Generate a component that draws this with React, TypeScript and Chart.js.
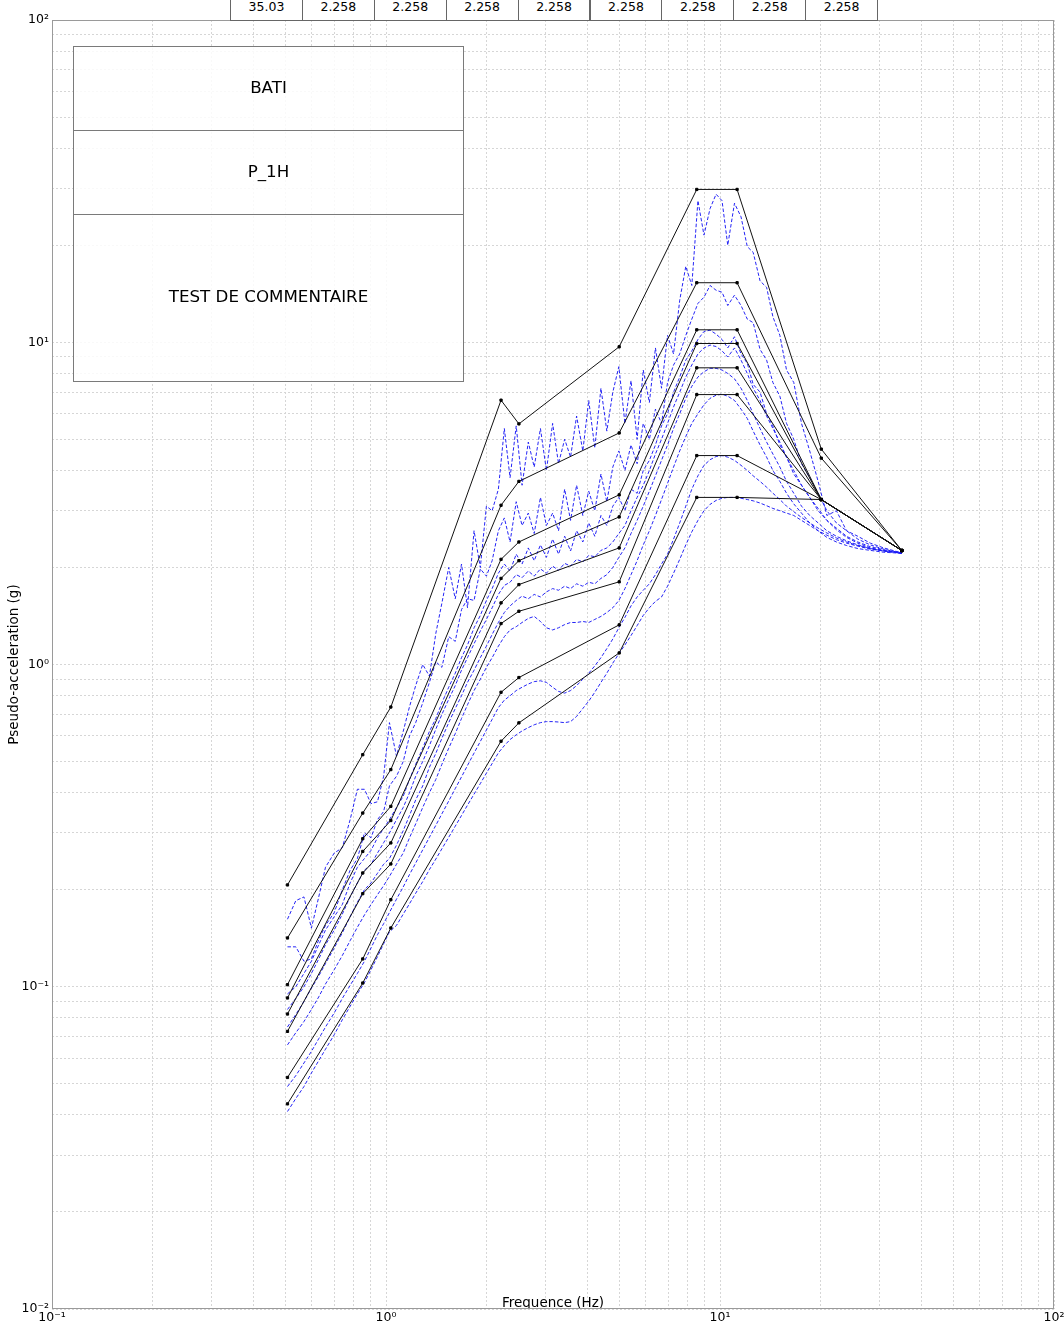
import React, { useEffect, useRef } from 'react';
import { Chart, registerables } from 'chart.js';

Chart.register(...registerables);

// ---------- Axis ticks ----------
const X_GRID_TICKS = [0.1, 0.2, 0.3, 0.4, 0.5, 0.6, 0.7, 0.8, 0.9, 1, 2, 3, 4, 5, 6, 7, 8, 9, 10, 20, 30, 40, 50, 60, 70, 80, 90, 100];
const Y_GRID_TICKS = [
  0.01, 0.02, 0.03, 0.04, 0.05, 0.06, 0.07, 0.08, 0.09,
  0.1, 0.2, 0.3, 0.4, 0.5, 0.6, 0.7, 0.8, 0.9,
  1, 2, 3, 4, 5, 6, 7, 8, 9,
  10, 20, 30, 40, 50, 60, 70, 80, 90, 100,
];
const X_MAJOR_TICKS = [0.1, 1, 10, 100];
const X_MAJOR_LABELS = ['10⁻¹', '10⁰', '10¹', '10²'];
const Y_MAJOR_TICKS = [0.01, 0.1, 1, 10, 100];
const Y_MAJOR_LABELS = ['10⁻²', '10⁻¹', '10⁰', '10¹', '10²'];

// ---------- Table & caption ----------
const TABLE_VALUES = ['35.03', '2.258', '2.258', '2.258', '2.258', '2.258', '2.258', '2.258', '2.258'];
const CAPTION_ROWS = ['BATI', 'P_1H', 'TEST DE COMMENTAIRE'];

// ---------- Envelope spectra (black, with markers) ----------
const ENV_FREQ = [0.507, 0.852, 1.034, 2.21, 2.5, 4.99, 8.52, 11.25, 20.1, 35.03];
const ENV_1 = [0.207, 0.525, 0.738, 6.61, 5.58, 9.68, 29.8, 29.8, 4.66, 2.258];
const ENV_2 = [0.1417, 0.346, 0.472, 3.12, 3.7, 5.23, 15.3, 15.3, 4.37, 2.258];
const ENV_3 = [0.1015, 0.288, 0.363, 2.12, 2.4, 3.36, 10.93, 10.93, 3.25, 2.258];
const ENV_4 = [0.0923, 0.263, 0.328, 1.85, 2.1, 2.87, 9.91, 9.91, 3.25, 2.258];
const ENV_5 = [0.0823, 0.2255, 0.2795, 1.553, 1.77, 2.3, 8.33, 8.33, 3.25, 2.258];
const ENV_6 = [0.0727, 0.1945, 0.2405, 1.34, 1.463, 1.805, 6.88, 6.88, 3.25, 2.258];
const ENV_7 = [0.0523, 0.122, 0.1863, 0.82, 0.911, 1.327, 4.45, 4.45, 3.25, 2.258];
const ENV_8 = [0.0433, 0.1027, 0.1522, 0.578, 0.659, 1.086, 3.3, 3.3, 3.25, 2.258];

// ---------- Computed spectra (blue dashed) ----------
const SPEC_FREQ = [
  0.507, 0.537, 0.568, 0.598, 0.629, 0.659, 0.70, 0.74, 0.781, 0.821,
  0.862, 0.902, 0.943, 0.984, 1.024, 1.075, 1.126, 1.176, 1.227, 1.288,
  1.349, 1.41, 1.47, 1.541, 1.612, 1.683, 1.754, 1.835, 1.916, 1.998,
  2.079, 2.17, 2.261, 2.352, 2.454, 2.555, 2.667, 2.778, 2.9, 3.022,
  3.154, 3.285, 3.427, 3.569, 3.721, 3.884, 4.046, 4.218, 4.401, 4.583,
  4.776, 4.979, 5.192, 5.415, 5.648, 5.891, 6.145, 6.408, 6.682, 6.966,
  7.26, 7.575, 7.899, 8.234, 8.589, 8.954, 9.339, 9.734, 10.14, 10.55,
  11.05, 11.56, 12.07, 12.57, 13.18, 13.79, 14.4, 15.11, 15.82, 16.63,
  17.54, 18.56, 19.67, 20.89, 22.31, 23.93, 25.86, 28.19, 30.93, 33.4,
  35.03,
];
const SPEC_1 = [
  0.162, 0.185, 0.19, 0.152, 0.19, 0.235, 0.26, 0.27, 0.33, 0.41,
  0.41, 0.37, 0.375, 0.45, 0.66, 0.52, 0.62, 0.74, 0.86, 1.0,
  0.92, 1.25, 1.55, 2.0, 1.6, 2.05, 1.5, 2.6, 2.0, 3.1,
  3.0, 3.5, 5.4, 3.8, 5.5, 3.6, 4.9, 4.1, 5.4, 4.0,
  5.6, 4.2, 5.0, 4.4, 5.9, 4.6, 6.6, 4.7, 7.2, 5.3,
  7.0, 8.4, 5.6, 7.6, 5.0, 8.2, 6.5, 9.6, 7.2, 10.5,
  9.2, 13.5, 17.2, 15.0, 27.5, 21.5, 26.0, 28.8, 27.5, 20.0,
  27.0, 24.5, 19.8, 19.0, 15.5, 14.8, 12.0, 10.5, 8.2, 7.5,
  5.6, 4.6, 3.7, 2.9, 3.0, 2.6, 2.5, 2.38, 2.3, 2.25,
  2.22,
];
const SPEC_2 = [
  0.133, 0.133, 0.12, 0.122, 0.14, 0.155, 0.17, 0.2, 0.23, 0.25,
  0.3, 0.29, 0.33, 0.35, 0.42, 0.45, 0.5, 0.6, 0.66, 0.76,
  0.88, 1.02, 0.98, 1.22, 1.18, 1.48, 1.6, 1.58, 1.98, 1.88,
  2.1, 2.6, 2.85, 2.4, 3.2, 2.7, 2.95, 2.55, 3.3, 2.7,
  2.95, 2.6, 3.5, 2.8, 3.6, 2.9, 3.45, 3.0, 3.9, 3.2,
  4.1, 4.6, 4.0, 4.8, 4.2, 5.6, 5.0, 6.2, 5.6, 7.5,
  8.5, 9.2, 10.5, 11.8, 13.2, 13.8, 15.0, 14.5, 14.3, 13.0,
  14.0, 13.0, 11.8, 11.5, 9.5, 8.8, 7.5, 6.8, 5.6, 5.0,
  4.2, 3.8, 3.4, 3.0, 2.75, 2.6, 2.45, 2.35, 2.28, 2.24,
  2.22,
];
const SPEC_3 = [
  0.095, 0.1, 0.11, 0.12, 0.135, 0.15, 0.165, 0.18, 0.21, 0.235,
  0.25, 0.265, 0.29, 0.31, 0.33, 0.36, 0.39, 0.44, 0.49, 0.55,
  0.62, 0.68, 0.76, 0.85, 0.94, 1.05, 1.15, 1.3, 1.42, 1.58,
  1.72, 1.92, 2.05, 1.95, 2.2, 2.05, 2.3, 2.1, 2.35, 2.15,
  2.45, 2.2, 2.5, 2.25, 2.6, 2.4, 2.75, 2.5, 2.9, 2.7,
  3.1, 3.3, 3.0, 3.5, 3.4, 4.0, 4.3, 4.8, 5.5, 6.0,
  7.0, 7.8, 8.8, 9.4, 10.2, 10.8, 10.9, 10.6, 10.2, 9.6,
  10.4, 9.2, 8.6, 7.4, 7.0, 6.0, 5.5, 4.8, 4.4, 3.9,
  3.6, 3.3, 3.0, 2.8, 2.65, 2.5, 2.4, 2.32, 2.27, 2.24,
  2.22,
];
const SPEC_4 = [
  0.085, 0.092, 0.1, 0.11, 0.122, 0.135, 0.15, 0.168, 0.19, 0.21,
  0.23, 0.24, 0.26, 0.28, 0.3, 0.33, 0.36, 0.4, 0.45, 0.5,
  0.56, 0.63, 0.7, 0.78, 0.86, 0.96, 1.05, 1.16, 1.27, 1.38,
  1.5, 1.65, 1.76, 1.8, 1.9, 1.86, 1.95, 1.88, 1.98, 1.92,
  2.02, 1.96, 2.06, 2.02, 2.12, 2.08, 2.18, 2.16, 2.26, 2.3,
  2.4, 2.55, 2.7, 3.0, 3.3, 3.6, 4.0, 4.5, 5.0, 5.6,
  6.3, 7.0, 7.8, 8.5, 9.2, 9.6, 9.8, 9.7, 9.4, 9.0,
  9.6, 8.8, 8.0, 7.2, 6.6, 5.9, 5.4, 4.9, 4.4, 4.0,
  3.6, 3.3, 3.05, 2.8, 2.62, 2.48, 2.38, 2.3, 2.26, 2.23,
  2.21,
];
const SPEC_5 = [
  0.075, 0.082, 0.09, 0.099, 0.108, 0.118, 0.132, 0.147, 0.165, 0.183,
  0.2, 0.21, 0.225, 0.24, 0.25, 0.275, 0.305, 0.34, 0.38, 0.42,
  0.48, 0.53, 0.59, 0.66, 0.73, 0.8, 0.88, 0.96, 1.05, 1.14,
  1.24, 1.35, 1.45, 1.52, 1.58, 1.63, 1.6, 1.65, 1.62, 1.68,
  1.72, 1.7, 1.75, 1.72, 1.78, 1.75, 1.8, 1.78, 1.85, 1.9,
  2.0, 2.15, 2.3, 2.55, 2.8, 3.1, 3.45, 3.85, 4.3, 4.8,
  5.4, 6.0, 6.7, 7.3, 7.8, 8.1, 8.3, 8.3, 8.2, 8.0,
  7.7, 7.2, 6.6, 6.0, 5.4, 4.9, 4.5, 4.1, 3.7, 3.4,
  3.1, 2.9, 2.75, 2.6, 2.5, 2.42, 2.35, 2.29, 2.25, 2.23,
  2.21,
];
const SPEC_6 = [
  0.066, 0.072, 0.078, 0.085, 0.093, 0.102, 0.113, 0.125, 0.139, 0.153,
  0.167, 0.18, 0.193, 0.206, 0.22, 0.24, 0.26, 0.29, 0.32, 0.36,
  0.4, 0.44, 0.49, 0.55, 0.61, 0.68, 0.75, 0.83, 0.9, 0.98,
  1.05, 1.14, 1.22, 1.28, 1.31, 1.35, 1.39, 1.41, 1.36, 1.3,
  1.28, 1.3, 1.33, 1.35, 1.35, 1.36, 1.35, 1.38, 1.41, 1.45,
  1.5, 1.58, 1.72, 1.9, 2.1, 2.35, 2.6, 2.9, 3.25, 3.65,
  4.1, 4.6, 5.1, 5.6, 6.0, 6.4, 6.7, 6.85, 6.9, 6.8,
  6.6, 6.2, 5.8, 5.3, 4.8, 4.4, 4.0, 3.7, 3.4, 3.15,
  2.95, 2.75, 2.6, 2.48, 2.4, 2.34, 2.29, 2.26, 2.23, 2.22,
  2.21,
];
const SPEC_7 = [
  0.049, 0.053, 0.058, 0.063, 0.069, 0.075, 0.083, 0.092, 0.101, 0.11,
  0.12, 0.132, 0.145, 0.157, 0.17, 0.187, 0.204, 0.223, 0.242, 0.266,
  0.291, 0.317, 0.344, 0.377, 0.412, 0.448, 0.486, 0.531, 0.577, 0.626,
  0.676, 0.735, 0.775, 0.8, 0.83, 0.85, 0.87, 0.885, 0.89, 0.88,
  0.85, 0.825, 0.815, 0.83, 0.86, 0.9, 0.94, 0.99, 1.05, 1.12,
  1.2, 1.3, 1.4, 1.52, 1.62, 1.7, 1.78, 1.9, 2.05, 2.2,
  2.45, 2.75, 3.1, 3.5, 3.85, 4.15, 4.32, 4.42, 4.45, 4.4,
  4.3, 4.15, 4.0, 3.85, 3.7, 3.55, 3.4, 3.25, 3.1, 2.98,
  2.86, 2.75, 2.65, 2.56, 2.47, 2.4, 2.34, 2.29, 2.25, 2.23,
  2.21,
];
const SPEC_8 = [
  0.041, 0.045, 0.049, 0.054, 0.059, 0.064, 0.071, 0.079, 0.087, 0.095,
  0.103, 0.113, 0.124, 0.136, 0.148, 0.155, 0.168, 0.181, 0.195, 0.212,
  0.231, 0.249, 0.268, 0.291, 0.315, 0.34, 0.366, 0.396, 0.427, 0.46,
  0.493, 0.532, 0.56, 0.585, 0.605, 0.622, 0.637, 0.65, 0.66, 0.665,
  0.665, 0.663, 0.66, 0.665, 0.69, 0.73, 0.77, 0.82, 0.88, 0.94,
  1.01, 1.08, 1.15, 1.23, 1.32, 1.42, 1.5, 1.57, 1.62, 1.75,
  1.92, 2.12, 2.35, 2.58, 2.8, 3.0, 3.14, 3.23, 3.28, 3.3,
  3.3, 3.28, 3.25, 3.22, 3.17, 3.11, 3.05, 3.0, 2.95, 2.9,
  2.8, 2.7, 2.6, 2.52, 2.44, 2.38, 2.33, 2.28, 2.25, 2.23,
  2.22,
];

const ENVELOPES = [ENV_1, ENV_2, ENV_3, ENV_4, ENV_5, ENV_6, ENV_7, ENV_8];
const SPECTRA = [SPEC_1, SPEC_2, SPEC_3, SPEC_4, SPEC_5, SPEC_6, SPEC_7, SPEC_8];

const FONT = '"DejaVu Sans", sans-serif';

function toPoints(xs: number[], ys: number[]) {
  const pts: { x: number; y: number }[] = [];
  for (let i = 0; i < xs.length && i < ys.length; i++) pts.push({ x: xs[i], y: ys[i] });
  return pts;
}

function labelFor(v: number, majors: number[], labels: string[]) {
  const i = majors.findIndex((m) => Math.abs(Math.log10(v / m)) < 1e-6);
  return i >= 0 ? labels[i] : '';
}

const framePlugin = {
  id: 'frame',
  beforeDatasetsDraw(chart: any) {
    const { ctx, chartArea: a } = chart;
    ctx.save();
    ctx.strokeStyle = '#9a9a9a';
    ctx.lineWidth = 1;
    const l = Math.round(a.left) + 0.5;
    const t = Math.round(a.top) + 0.5;
    const r = Math.round(a.right) - 0.5;
    const b = Math.round(a.bottom) - 0.5;
    ctx.strokeRect(l, t, r - l, b - t);
    ctx.restore();
  },
};

export default function App() {
  const ref = useRef<HTMLCanvasElement>(null);

  useEffect(() => {
    if (!ref.current) return;
    const datasets: any[] = [];
    ENVELOPES.forEach((env, i) => {
      datasets.push({
        label: 'Enveloppe ' + (i + 1),
        data: toPoints(ENV_FREQ, env),
        showLine: true,
        borderColor: '#111',
        borderWidth: 1,
        pointStyle: 'rect',
        pointRadius: 1.6,
        pointBorderWidth: 1,
        pointBackgroundColor: '#000',
        pointBorderColor: '#000',
        tension: 0,
        order: 0,
      });
    });
    SPECTRA.forEach((spec, i) => {
      datasets.push({
        label: 'Spectre ' + (i + 1),
        data: toPoints(SPEC_FREQ, spec),
        showLine: true,
        borderColor: 'rgba(25,25,245,0.95)',
        borderWidth: 1,
        borderDash: [3.5, 2],
        pointRadius: 0,
        tension: 0,
        order: 1,
      });
    });

    const chart = new Chart(ref.current, {
      type: 'scatter',
      data: { datasets },
      options: {
        responsive: false,
        animation: false,
        events: [],
        layout: { padding: { left: 0, right: 10, top: 20, bottom: 0 } },
        plugins: {
          legend: { display: false },
          tooltip: { enabled: false },
          title: { display: false },
        },
        scales: {
          x: {
            type: 'logarithmic',
            position: 'bottom',
            min: 0.1,
            max: 100,
            afterBuildTicks: (s: any) => {
              s.ticks = X_GRID_TICKS.map((v) => ({ value: v }));
            },
            afterFit: (s: any) => {
              s.height = 14;
              s.paddingLeft = 0;
              s.paddingRight = 0;
            },
            ticks: {
              autoSkip: false,
              maxRotation: 0,
              minRotation: 0,
              padding: 1,
              color: '#000',
              font: { family: FONT, size: 12.5 },
              callback: (v: any) => labelFor(Number(v), X_MAJOR_TICKS, X_MAJOR_LABELS),
            },
            grid: { color: '#d6d6d6', lineWidth: 1, drawTicks: false },
            border: { display: false, dash: [2, 2] },
            title: {
              display: true,
              text: 'Frequence (Hz)',
              color: '#000',
              font: { family: FONT, size: 13.5 },
              padding: { top: 0, bottom: 11 },
            },
          },
          y: {
            type: 'logarithmic',
            position: 'left',
            min: 0.01,
            max: 100,
            afterBuildTicks: (s: any) => {
              s.ticks = Y_GRID_TICKS.map((v) => ({ value: v }));
            },
            afterFit: (s: any) => {
              s.width = 52;
              s.paddingTop = 0;
              s.paddingBottom = 0;
            },
            ticks: {
              autoSkip: false,
              padding: 3,
              color: '#000',
              font: { family: FONT, size: 12.5 },
              callback: (v: any) => labelFor(Number(v), Y_MAJOR_TICKS, Y_MAJOR_LABELS),
            },
            grid: { color: '#d6d6d6', lineWidth: 1, drawTicks: false },
            border: { display: false, dash: [2, 2] },
            title: {
              display: true,
              text: 'Pseudo-acceleration (g)',
              color: '#000',
              font: { family: FONT, size: 13.5 },
              padding: { top: 6, bottom: 0 },
            },
          },
        },
      } as any,
      plugins: [framePlugin],
    });
    return () => chart.destroy();
  }, []);

  const cellLeft = 230;
  const cellWidth = 71.9;
  const rowHeights = [84, 84, 168];

  return (
    <div
      style={{
        position: 'absolute',
        left: 0,
        top: 0,
        width: 1064,
        height: 1323,
        overflow: 'hidden',
        background: '#fff',
        fontFamily: FONT,
      }}
    >
      <canvas
        ref={ref}
        width={1064}
        height={1323}
        style={{ position: 'absolute', left: 0, top: 0, width: 1064, height: 1323 }}
      />
      {TABLE_VALUES.map((t, i) => (
        <div
          key={i}
          style={{
            position: 'absolute',
            left: cellLeft + i * cellWidth,
            top: -10,
            width: cellWidth + 1,
            height: 31,
            boxSizing: 'border-box',
            border: '1px solid #666',
            display: 'flex',
            alignItems: 'center',
            justifyContent: 'center',
            fontSize: 12.5,
            color: '#000',
            paddingTop: 1,
            background: '#fff',
          }}
        >
          {t}
        </div>
      ))}
      <div
        style={{
          position: 'absolute',
          left: 73,
          top: 46,
          width: 391,
          boxSizing: 'border-box',
          border: '1px solid #7a7a7a',
          background: 'rgba(255,255,255,0.85)',
        }}
      >
        {CAPTION_ROWS.map((t, i) => (
          <div
            key={i}
            style={{
              height: rowHeights[i] - (i === 0 ? 1 : 0) - (i === CAPTION_ROWS.length - 1 ? 1 : 0),
              boxSizing: 'border-box',
              borderTop: i > 0 ? '1px solid #7a7a7a' : 'none',
              display: 'flex',
              alignItems: 'center',
              justifyContent: 'center',
              paddingBottom: 4,
              fontSize: 16.7,
              color: '#000',
            }}
          >
            {t}
          </div>
        ))}
      </div>
    </div>
  );
}
